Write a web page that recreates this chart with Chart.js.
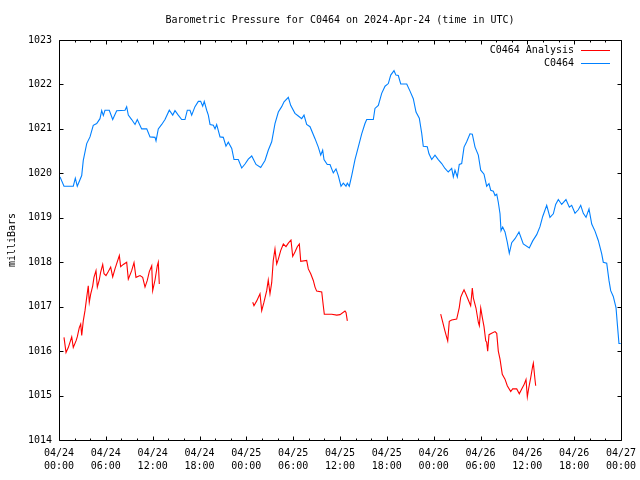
<!DOCTYPE html>
<html>
<head>
<meta charset="utf-8">
<title>Barometric Pressure for C0464</title>
<script src="https://cdn.jsdelivr.net/npm/chart.js@4.4.1/dist/chart.umd.min.js"></script>
<style>
    body { margin: 0; background: #fff; }
    canvas { display: block; }
</style>
</head>
<body>
<canvas id="pressureChart" width="640" height="480"></canvas>
<script>
// hours since 04/24 00:00 UTC
const stationHours = [
    0.13, 0.64, 1.83, 2.09, 2.34, 2.91, 3.11, 3.55, 3.97, 4.39, 4.83, 5.25, 5.47, 5.68, 5.89,
    6.44, 6.88, 7.39, 8.46, 8.67, 8.88, 9.31, 9.74, 10.03, 10.59, 11.24, 11.66, 12.30, 12.43,
    12.72, 13.16, 13.58, 14.13, 14.57, 14.86, 15.28, 15.72, 16.14, 16.44, 16.78, 17.00, 17.42,
    17.85, 18.15, 18.41, 18.61, 18.92, 19.13, 19.35, 19.77, 19.99, 20.20, 20.63, 21.05, 21.39,
    21.69, 22.13, 22.42, 22.97, 23.41, 23.83, 24.25, 24.69, 25.24, 25.84, 26.39, 26.81, 27.25,
    27.67, 28.10, 28.53, 28.83, 29.38, 29.68, 30.23, 30.66, 31.09, 31.39, 31.73, 32.16, 32.80,
    33.22, 33.53, 33.78, 33.95, 34.37, 34.72, 35.14, 35.49, 35.78, 36.13, 36.42, 36.77, 36.94,
    37.19, 37.50, 37.92, 38.34, 38.78, 39.20, 39.42, 40.27, 40.48, 40.91, 41.34, 41.77, 42.19,
    42.50, 42.92, 43.17, 43.47, 43.78, 44.55, 44.97, 45.39, 45.74, 46.16, 46.47, 46.67, 47.18,
    47.40, 47.75, 48.17, 48.59, 49.03, 49.45, 49.87, 50.31, 50.52, 50.73, 51.03, 51.28, 51.59,
    51.89, 52.23, 52.65, 52.95, 53.30, 53.72, 54.03, 54.45, 54.79, 55.09, 55.31, 55.64, 55.86,
    56.08, 56.28, 56.50, 56.63, 56.84, 57.14, 57.43, 57.69, 58.00, 58.42, 58.93, 59.48, 60.25,
    60.69, 61.20, 61.62, 61.97, 62.48, 62.90, 63.33, 63.63, 63.97, 64.40, 64.95, 65.38, 65.68,
    66.11, 66.53, 66.84, 67.17, 67.52, 67.90, 68.25, 68.67, 69.09, 69.53, 69.73, 70.17, 70.46,
    70.68, 71.01, 71.36, 71.53, 71.74, 71.96
];
const stationValues = [
    1019.92, 1019.71, 1019.71, 1019.89, 1019.71, 1019.95, 1020.29, 1020.67, 1020.82, 1021.08,
    1021.12, 1021.23, 1021.41, 1021.30, 1021.42, 1021.42, 1021.21, 1021.41, 1021.42, 1021.50,
    1021.31, 1021.21, 1021.10, 1021.21, 1021.00, 1021.00, 1020.82, 1020.81, 1020.73, 1021.00,
    1021.10, 1021.21, 1021.42, 1021.31, 1021.41, 1021.31, 1021.21, 1021.21, 1021.42, 1021.42,
    1021.31, 1021.50, 1021.62, 1021.62, 1021.51, 1021.62, 1021.42, 1021.31, 1021.10, 1021.08,
    1021.00, 1021.10, 1020.82, 1020.81, 1020.61, 1020.70, 1020.56, 1020.31, 1020.31, 1020.12,
    1020.21, 1020.32, 1020.39, 1020.20, 1020.13, 1020.29, 1020.52, 1020.71, 1021.12, 1021.38,
    1021.50, 1021.61, 1021.71, 1021.53, 1021.35, 1021.29, 1021.23, 1021.31, 1021.10, 1021.05,
    1020.78, 1020.59, 1020.41, 1020.52, 1020.31, 1020.20, 1020.20, 1020.01, 1020.10, 1019.95,
    1019.71, 1019.78, 1019.71, 1019.78, 1019.71, 1019.95, 1020.31, 1020.59, 1020.89, 1021.12,
    1021.21, 1021.21, 1021.46, 1021.53, 1021.80, 1021.96, 1022.02, 1022.21, 1022.31, 1022.21,
    1022.20, 1022.01, 1022.01, 1021.85, 1021.68, 1021.38, 1021.24, 1020.90, 1020.61, 1020.60,
    1020.44, 1020.31, 1020.41, 1020.31, 1020.22, 1020.11, 1020.03, 1020.11, 1019.92, 1020.07,
    1019.92, 1020.20, 1020.22, 1020.59, 1020.71, 1020.89, 1020.88, 1020.59, 1020.41, 1020.07,
    1019.98, 1019.71, 1019.77, 1019.62, 1019.60, 1019.50, 1019.53, 1019.35, 1019.09, 1018.71,
    1018.79, 1018.68, 1018.45, 1018.20, 1018.44, 1018.53, 1018.68, 1018.41, 1018.32, 1018.48,
    1018.62, 1018.80, 1019.03, 1019.28, 1019.01, 1019.09, 1019.30, 1019.41, 1019.30, 1019.41,
    1019.24, 1019.28, 1019.10, 1019.18, 1019.28, 1019.10, 1019.01, 1019.20, 1018.86, 1018.70,
    1018.49, 1018.19, 1018.00, 1017.98, 1017.59, 1017.36, 1017.23, 1016.98, 1016.61, 1016.17,
    1016.17
];

// analysis runs in three pieces, null marks a break
const analysisHours = [
    0.64, 0.90, 1.19, 1.63, 1.83, 2.18, 2.34, 2.60, 2.78, 2.91, 3.11, 3.33, 3.55, 3.75, 3.88,
    4.06, 4.32, 4.48, 4.74, 4.91, 5.16, 5.34, 5.60, 5.77, 6.02, 6.32, 6.62, 6.88, 7.17, 7.39,
    7.73, 7.90, 8.24, 8.67, 8.88, 9.31, 9.61, 9.86, 10.38, 10.72, 11.02, 11.31, 11.57, 11.88,
    12.00, 12.30, 12.59, 12.72, 12.85,
    null,
    24.82, 24.98, 25.33, 25.75, 25.97, 26.26, 26.61, 26.81, 27.03, 27.25, 27.45, 27.67, 27.89,
    28.10, 28.40, 28.74, 29.08, 29.38, 29.72, 29.94, 30.23, 30.53, 30.79, 30.97, 31.73, 31.94,
    32.25, 32.58, 32.80, 33.01, 33.66, 33.86, 33.99, 34.94, 35.58, 36.00, 36.64, 36.77, 36.94,
    null,
    48.90, 49.16, 49.45, 49.67, 49.80, 50.00, 50.31, 50.95, 51.28, 51.46, 51.72, 51.89, 52.14,
    52.44, 52.74, 52.95, 53.08, 53.42, 53.72, 53.85, 54.03, 54.23, 54.45, 54.67, 54.79, 54.92,
    55.09, 55.43, 55.86, 56.08, 56.28, 56.50, 56.79, 57.14, 57.43, 57.87, 58.12, 58.64, 58.97,
    59.28, 59.57, 59.83, 60.00, 60.18, 60.43, 60.69, 60.77, 60.98, 61.07
];
const analysisValues = [
    1016.31, 1015.97, 1016.08, 1016.32, 1016.08, 1016.23, 1016.32, 1016.53, 1016.61, 1016.35,
    1016.68, 1016.91, 1017.21, 1017.47, 1017.10, 1017.28, 1017.47, 1017.66, 1017.81, 1017.44,
    1017.60, 1017.78, 1017.95, 1017.74, 1017.70, 1017.79, 1017.89, 1017.67, 1017.85, 1017.97,
    1018.15, 1017.90, 1017.95, 1018.00, 1017.62, 1017.81, 1017.99, 1017.66, 1017.70, 1017.66,
    1017.44, 1017.59, 1017.79, 1017.92, 1017.36, 1017.60, 1017.92, 1018.00, 1017.51,
    null,
    1017.10, 1017.02, 1017.13, 1017.29, 1016.91, 1017.10, 1017.36, 1017.60, 1017.29, 1017.54,
    1018.04, 1018.30, 1017.96, 1018.07, 1018.26, 1018.41, 1018.35, 1018.43, 1018.50, 1018.13,
    1018.23, 1018.35, 1018.41, 1018.02, 1018.04, 1017.85, 1017.74, 1017.59, 1017.44, 1017.35,
    1017.33, 1017.02, 1016.83, 1016.83, 1016.81, 1016.82, 1016.90, 1016.87, 1016.68,
    null,
    1016.83, 1016.65, 1016.45, 1016.31, 1016.23, 1016.67, 1016.70, 1016.72, 1016.98, 1017.21,
    1017.32, 1017.38, 1017.28, 1017.15, 1017.02, 1017.42, 1017.20, 1016.97, 1016.65, 1016.57,
    1016.97, 1016.76, 1016.55, 1016.23, 1016.20, 1016.00, 1016.37, 1016.40, 1016.44, 1016.40,
    1016.00, 1015.82, 1015.48, 1015.37, 1015.22, 1015.09, 1015.15, 1015.15, 1015.04, 1015.15,
    1015.24, 1015.36, 1014.97, 1015.17, 1015.40, 1015.67, 1015.73, 1015.36, 1015.22
];

const xTickLabels = [
    ['04/24', '00:00'], ['04/24', '06:00'], ['04/24', '12:00'], ['04/24', '18:00'],
    ['04/25', '00:00'], ['04/25', '06:00'], ['04/25', '12:00'], ['04/25', '18:00'],
    ['04/26', '00:00'], ['04/26', '06:00'], ['04/26', '12:00'], ['04/26', '18:00'],
    ['04/27', '00:00']
];
const yTickValues = [1014, 1015, 1016, 1017, 1018, 1019, 1020, 1021, 1022, 1023];

const FONT = '10px "DejaVu Sans Mono"';
const RED = '#ff0000';
const BLUE = '#0080ff';

function toPoints(hours, values) {
    return hours.map((h, i) => ({
        x: h === null ? hours[i - 1] : h,
        y: values[i]
    }));
}

// gnuplot look: closed frame, inward ticks, title, key and ylabel
const gnuplotFrame = {
    id: 'gnuplotFrame',
    afterDraw(chart) {
        const { ctx, chartArea: a, scales: { x, y } } = chart;
        const left = Math.round(a.left) + 0.5;
        const right = Math.round(a.right) + 0.5;
        const top = Math.round(a.top) + 0.5;
        const bottom = Math.round(a.bottom) + 0.5;

        ctx.save();
        ctx.strokeStyle = '#000';
        ctx.lineWidth = 1;
        ctx.beginPath();
        for (let h = 0; h <= 72; h += 2) {
            const px = Math.round(x.getPixelForValue(h)) + 0.5;
            const len = h % 6 === 0 ? 4 : 2;
            ctx.moveTo(px, bottom); ctx.lineTo(px, bottom - len);
            ctx.moveTo(px, top); ctx.lineTo(px, top + len);
        }
        yTickValues.forEach(v => {
            const py = Math.round(y.getPixelForValue(v)) + 0.5;
            ctx.moveTo(left, py); ctx.lineTo(left + 4, py);
            ctx.moveTo(right, py); ctx.lineTo(right - 4, py);
        });
        ctx.rect(left, top, right - left, bottom - top);
        ctx.stroke();

        ctx.fillStyle = '#000';
        ctx.font = FONT;
        ctx.textBaseline = 'middle';

        ctx.textAlign = 'center';
        ctx.fillText('Barometric Pressure for C0464 on 2024-Apr-24 (time in UTC)', (a.left + a.right) / 2, 20);

        // key
        ctx.textAlign = 'right';
        ctx.fillText('C0464 Analysis', 574, 50);
        ctx.fillText('C0464', 574, 63);
        ctx.beginPath();
        ctx.strokeStyle = RED;
        ctx.moveTo(581, 50.5); ctx.lineTo(610, 50.5);
        ctx.stroke();
        ctx.beginPath();
        ctx.strokeStyle = BLUE;
        ctx.moveTo(581, 63.5); ctx.lineTo(610, 63.5);
        ctx.stroke();

        ctx.translate(12, (a.top + a.bottom) / 2);
        ctx.rotate(-Math.PI / 2);
        ctx.textAlign = 'center';
        ctx.fillText('milliBars', 0, 0);
        ctx.restore();
    }
};

const ctx = document.getElementById('pressureChart').getContext('2d');

new Chart(ctx, {
    type: 'line',
    data: {
        datasets: [
            {
                label: 'C0464 Analysis',
                data: toPoints(analysisHours, analysisValues),
                borderColor: RED,
                borderWidth: 1.1,
                pointRadius: 0,
                tension: 0,
                spanGaps: false
            },
            {
                label: 'C0464',
                data: toPoints(stationHours, stationValues),
                borderColor: BLUE,
                borderWidth: 1.1,
                pointRadius: 0,
                tension: 0
            }
        ]
    },
    options: {
        responsive: false,
        animation: false,
        layout: {
            padding: { top: 40, right: 19, left: 0, bottom: 0 }
        },
        plugins: {
            legend: { display: false },
            title: { display: false },
            tooltip: { enabled: false }
        },
        scales: {
            x: {
                type: 'linear',
                min: 0,
                max: 72,
                afterFit(scale) {
                    scale.height = 40;
                    // last label may hang past the frame, like gnuplot does
                    scale.paddingLeft = 0;
                    scale.paddingRight = 0;
                },
                grid: { display: false, drawTicks: false },
                border: { display: false },
                ticks: {
                    stepSize: 6,
                    autoSkip: false,
                    maxRotation: 0,
                    padding: 7,
                    color: '#000',
                    font: { family: '"DejaVu Sans Mono"', size: 10, lineHeight: 1.3 },
                    callback: (value) => xTickLabels[Math.round(value / 6)]
                }
            },
            y: {
                min: 1014,
                max: 1023,
                afterFit(scale) {
                    scale.width = 59;
                    scale.paddingTop = 0;
                    scale.paddingBottom = 0;
                },
                grid: { display: false, drawTicks: false },
                border: { display: false },
                ticks: {
                    stepSize: 1,
                    padding: 7,
                    color: '#000',
                    font: { family: '"DejaVu Sans Mono"', size: 10 },
                    callback: (value) => String(value)
                }
            }
        }
    },
    plugins: [gnuplotFrame]
});
</script>
</body>
</html>
